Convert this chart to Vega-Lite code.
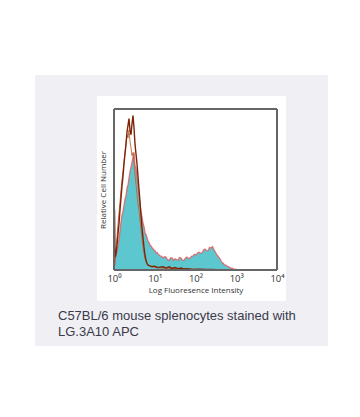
{
  "$schema": "https://vega.github.io/schema/vega-lite/v6.json",
  "width": 163,
  "height": 161,
  "autosize": {"type": "none"},
  "padding": {"left": 114, "top": 109, "right": 83, "bottom": 147},
  "background": "white",
  "config": {"view": {"stroke": null}},
  "title": {
    "text": ["C57BL/6 mouse splenocytes stained with", "LG.3A10 APC"],
    "orient": "bottom",
    "anchor": "start",
    "frame": "group",
    "dx": -56,
    "offset": -36,
    "font": "Liberation Sans",
    "fontSize": 13,
    "fontWeight": "normal",
    "color": "#3a3a4a",
    "lineHeight": 16
  },
  "datasets": {
    "hist": [
      {"x":1.0,"n":0,"s":"stained"},{"x":1.06,"n":5,"s":"stained"},{"x":1.12,"n":9,"s":"stained"},{"x":1.19,"n":12,"s":"stained"},{"x":1.25,"n":15,"s":"stained"},{"x":1.33,"n":19,"s":"stained"},{"x":1.40,"n":24,"s":"stained"},{"x":1.49,"n":30,"s":"stained"},{"x":1.57,"n":34,"s":"stained"},{"x":1.66,"n":36,"s":"stained"},{"x":1.76,"n":40,"s":"stained"},{"x":1.86,"n":44,"s":"stained"},{"x":1.97,"n":46,"s":"stained"},{"x":2.09,"n":51,"s":"stained"},{"x":2.21,"n":53,"s":"stained"},{"x":2.33,"n":57,"s":"stained"},{"x":2.47,"n":61,"s":"stained"},{"x":2.61,"n":64,"s":"stained"},{"x":2.77,"n":67,"s":"stained"},{"x":2.93,"n":70,"s":"stained"},{"x":3.10,"n":73,"s":"stained"},{"x":3.28,"n":65,"s":"stained"},{"x":3.47,"n":63,"s":"stained"},{"x":3.67,"n":57,"s":"stained"},{"x":3.88,"n":53,"s":"stained"},{"x":4.11,"n":47,"s":"stained"},{"x":4.35,"n":41,"s":"stained"},{"x":4.60,"n":36,"s":"stained"},{"x":4.87,"n":33,"s":"stained"},{"x":5.15,"n":29,"s":"stained"},{"x":5.45,"n":27,"s":"stained"},{"x":5.77,"n":23,"s":"stained"},{"x":6.10,"n":22,"s":"stained"},{"x":6.46,"n":20,"s":"stained"},{"x":6.83,"n":18,"s":"stained"},{"x":7.2,"n":17,"s":"stained"},{"x":7.65,"n":15.5,"s":"stained"},{"x":8.1,"n":15,"s":"stained"},{"x":8.56,"n":14,"s":"stained"},{"x":9.1,"n":13,"s":"stained"},{"x":9.58,"n":12.4,"s":"stained"},{"x":10.2,"n":12,"s":"stained"},{"x":10.7,"n":10.6,"s":"stained"},{"x":11.3,"n":11,"s":"stained"},{"x":12.0,"n":10,"s":"stained"},{"x":12.7,"n":9.5,"s":"stained"},{"x":13.5,"n":8.7,"s":"stained"},{"x":14.7,"n":8.5,"s":"stained"},{"x":15.9,"n":7.5,"s":"stained"},{"x":17.3,"n":8.2,"s":"stained"},{"x":18.9,"n":8,"s":"stained"},{"x":20.5,"n":6.5,"s":"stained"},{"x":22.4,"n":6,"s":"stained"},{"x":24.4,"n":7.5,"s":"stained"},{"x":26.5,"n":7.5,"s":"stained"},{"x":28.8,"n":6,"s":"stained"},{"x":31.4,"n":7,"s":"stained"},{"x":34.2,"n":6.5,"s":"stained"},{"x":37.2,"n":6,"s":"stained"},{"x":40.5,"n":7.8,"s":"stained"},{"x":44.1,"n":7.5,"s":"stained"},{"x":48,"n":6,"s":"stained"},{"x":52.2,"n":6,"s":"stained"},{"x":56.8,"n":7.5,"s":"stained"},{"x":61.9,"n":8,"s":"stained"},{"x":67.3,"n":7,"s":"stained"},{"x":73.3,"n":7.5,"s":"stained"},{"x":79.8,"n":8.5,"s":"stained"},{"x":86.8,"n":8.7,"s":"stained"},{"x":94.5,"n":9.8,"s":"stained"},{"x":102.9,"n":9.3,"s":"stained"},{"x":112,"n":10.5,"s":"stained"},{"x":121.9,"n":11,"s":"stained"},{"x":132.7,"n":10.5,"s":"stained"},{"x":144.4,"n":10.6,"s":"stained"},{"x":157.2,"n":12.5,"s":"stained"},{"x":171,"n":13,"s":"stained"},{"x":186,"n":12,"s":"stained"},{"x":203,"n":12,"s":"stained"},{"x":220,"n":14,"s":"stained"},{"x":240,"n":13.7,"s":"stained"},{"x":262,"n":14.5,"s":"stained"},{"x":285,"n":12.5,"s":"stained"},{"x":309,"n":11,"s":"stained"},{"x":337,"n":9.3,"s":"stained"},{"x":367,"n":8.2,"s":"stained"},{"x":399,"n":7,"s":"stained"},{"x":435,"n":5,"s":"stained"},{"x":473,"n":4.3,"s":"stained"},{"x":515,"n":3.2,"s":"stained"},{"x":560,"n":3,"s":"stained"},{"x":610,"n":2.2,"s":"stained"},{"x":664,"n":2,"s":"stained"},{"x":723,"n":1.2,"s":"stained"},{"x":787,"n":1.2,"s":"stained"},{"x":857,"n":0.6,"s":"stained"},{"x":932,"n":0.6,"s":"stained"},{"x":1020,"n":0.2,"s":"stained"},{"x":1236,"n":0,"s":"stained"},{"x":10000,"n":0,"s":"stained"},

      {"x":1.0,"n":39,"s":"control"},{"x":1.03,"n":37,"s":"control"},{"x":1.06,"n":8,"s":"control"},{"x":1.12,"n":10,"s":"control"},{"x":1.19,"n":16,"s":"control"},{"x":1.25,"n":22,"s":"control"},{"x":1.33,"n":29,"s":"control"},{"x":1.40,"n":37,"s":"control"},{"x":1.49,"n":45,"s":"control"},{"x":1.57,"n":52,"s":"control"},{"x":1.66,"n":58,"s":"control"},{"x":1.76,"n":66,"s":"control"},{"x":1.86,"n":72,"s":"control"},{"x":1.97,"n":78,"s":"control"},{"x":2.09,"n":86,"s":"control"},{"x":2.21,"n":90,"s":"control"},{"x":2.33,"n":94,"s":"control"},{"x":2.47,"n":87,"s":"control"},{"x":2.61,"n":84,"s":"control"},{"x":2.77,"n":91,"s":"control"},{"x":2.93,"n":96,"s":"control"},{"x":3.10,"n":88,"s":"control"},{"x":3.28,"n":78,"s":"control"},{"x":3.47,"n":72,"s":"control"},{"x":3.67,"n":66,"s":"control"},{"x":3.88,"n":58,"s":"control"},{"x":4.11,"n":50,"s":"control"},{"x":4.35,"n":42,"s":"control"},{"x":4.60,"n":34,"s":"control"},{"x":4.87,"n":26,"s":"control"},{"x":5.15,"n":20,"s":"control"},{"x":5.45,"n":14,"s":"control"},{"x":5.77,"n":9,"s":"control"},{"x":6.10,"n":6,"s":"control"},{"x":6.46,"n":4,"s":"control"},{"x":6.83,"n":3,"s":"control"},{"x":7.65,"n":2.5,"s":"control"},{"x":8.56,"n":2,"s":"control"},{"x":9.58,"n":2.4,"s":"control"},{"x":10.7,"n":2,"s":"control"},{"x":12.0,"n":1.5,"s":"control"},{"x":13.5,"n":1.8,"s":"control"},{"x":15.9,"n":2,"s":"control"},{"x":18.9,"n":1.2,"s":"control"},{"x":22.4,"n":2,"s":"control"},{"x":26.5,"n":1,"s":"control"},{"x":31.4,"n":1.5,"s":"control"},{"x":37.2,"n":0.8,"s":"control"},{"x":44.1,"n":1.2,"s":"control"},{"x":52.2,"n":0.6,"s":"control"},{"x":61.9,"n":0.8,"s":"control"},{"x":86.8,"n":0.4,"s":"control"},{"x":121.9,"n":0.5,"s":"control"},{"x":171,"n":0.3,"s":"control"},{"x":240,"n":0.4,"s":"control"},{"x":337,"n":0.2,"s":"control"},{"x":560,"n":0.2,"s":"control"},{"x":1000,"n":0,"s":"control"},{"x":10000,"n":0,"s":"control"},

      {"x":1.0,"n":0,"s":"unstained"},{"x":1.06,"n":6,"s":"unstained"},{"x":1.12,"n":14,"s":"unstained"},{"x":1.19,"n":21,"s":"unstained"},{"x":1.25,"n":28,"s":"unstained"},{"x":1.33,"n":36,"s":"unstained"},{"x":1.40,"n":42,"s":"unstained"},{"x":1.49,"n":50,"s":"unstained"},{"x":1.57,"n":56,"s":"unstained"},{"x":1.66,"n":61,"s":"unstained"},{"x":1.76,"n":67,"s":"unstained"},{"x":1.86,"n":73,"s":"unstained"},{"x":1.97,"n":79,"s":"unstained"},{"x":2.09,"n":84,"s":"unstained"},{"x":2.21,"n":82,"s":"unstained"},{"x":2.33,"n":87,"s":"unstained"},{"x":2.47,"n":80,"s":"unstained"},{"x":2.61,"n":76,"s":"unstained"},{"x":2.77,"n":71,"s":"unstained"},{"x":2.93,"n":73,"s":"unstained"},{"x":3.10,"n":65,"s":"unstained"},{"x":3.28,"n":59,"s":"unstained"},{"x":3.47,"n":53,"s":"unstained"},{"x":3.67,"n":47,"s":"unstained"},{"x":3.88,"n":41,"s":"unstained"},{"x":4.11,"n":37,"s":"unstained"},{"x":4.35,"n":31,"s":"unstained"},{"x":4.60,"n":25,"s":"unstained"},{"x":4.87,"n":19,"s":"unstained"},{"x":5.15,"n":14,"s":"unstained"},{"x":5.45,"n":10,"s":"unstained"},{"x":5.77,"n":7,"s":"unstained"},{"x":6.10,"n":5,"s":"unstained"},{"x":6.83,"n":3,"s":"unstained"},{"x":8.56,"n":2,"s":"unstained"},{"x":10.7,"n":1.5,"s":"unstained"},{"x":20,"n":1,"s":"unstained"},{"x":60,"n":0.6,"s":"unstained"},{"x":200,"n":0.3,"s":"unstained"},{"x":1000,"n":0,"s":"unstained"},{"x":10000,"n":0,"s":"unstained"}
    ]
  },
  "data": {"name": "hist"},
  "encoding": {
    "x": {
      "field": "x", "type": "quantitative",
      "scale": {"type": "log", "domain": [1, 10000], "nice": false},
      "axis": {
        "values": [1, 10, 100, 1000, 10000],
        "labelExpr": "datum.value == 1 ? '10⁰' : datum.value == 10 ? '10¹' : datum.value == 100 ? '10²' : datum.value == 1000 ? '10³' : '10⁴'",
        "ticks": false, "domain": false, "grid": false,
        "labelPadding": 3, "labelFont": "Open Sans", "labelFontSize": 9.5, "labelColor": "#333",
        "labelFlush": false, "labelOverlap": false,
        "title": "Log Fluoresence Intensity",
        "titleFont": "Open Sans", "titleFontSize": 8, "titleFontWeight": "normal", "titleColor": "#333",
        "titlePadding": 4, "zindex": 1
      }
    },
    "y": {
      "field": "n", "type": "quantitative",
      "scale": {"domain": [0, 100], "nice": false, "zero": false},
      "axis": {
        "labels": false, "ticks": false, "domain": false, "grid": false,
        "title": "Relative Cell Number",
        "titleFont": "Open Sans", "titleFontSize": 8, "titleFontWeight": "normal", "titleColor": "#333",
        "titlePadding": 7, "zindex": 1
      }
    }
  },
  "layer": [
    {
      "mark": {"type": "rect", "fill": "#f0eff4", "clip": false},
      "encoding": {
        "x": {"datum": 0.0115}, "x2": {"datum": 178000},
        "y": {"datum": 121}, "y2": {"datum": -47}
      }
    },
    {
      "mark": {"type": "rect", "fill": "white", "clip": false},
      "encoding": {
        "x": {"datum": 0.383}, "x2": {"datum": 16630},
        "y": {"datum": 108}, "y2": {"datum": -19.3}
      }
    },
    {
      "transform": [{"filter": "datum.s == 'stained'"}],
      "mark": {"type": "area", "color": "#5cc7cf", "opacity": 1}
    },
    {
      "transform": [{"filter": "datum.s == 'stained'"}],
      "mark": {"type": "line", "color": "#e4585e", "strokeWidth": 1.3, "opacity": 0.8}
    },
    {
      "transform": [{"filter": "datum.s == 'unstained'"}],
      "mark": {"type": "line", "color": "#c0653a", "strokeWidth": 1, "opacity": 0.9}
    },
    {
      "transform": [{"filter": "datum.s == 'control'"}],
      "mark": {"type": "line", "color": "#7e2408", "strokeWidth": 1.4}
    },
    {
      "mark": {"type": "rect", "fill": null, "stroke": "#666", "strokeWidth": 1, "clip": false},
      "encoding": {
        "x": {"datum": 1}, "x2": {"datum": 10000},
        "y": {"datum": 100}, "y2": {"datum": 0}
      }
    }
  ]
}
